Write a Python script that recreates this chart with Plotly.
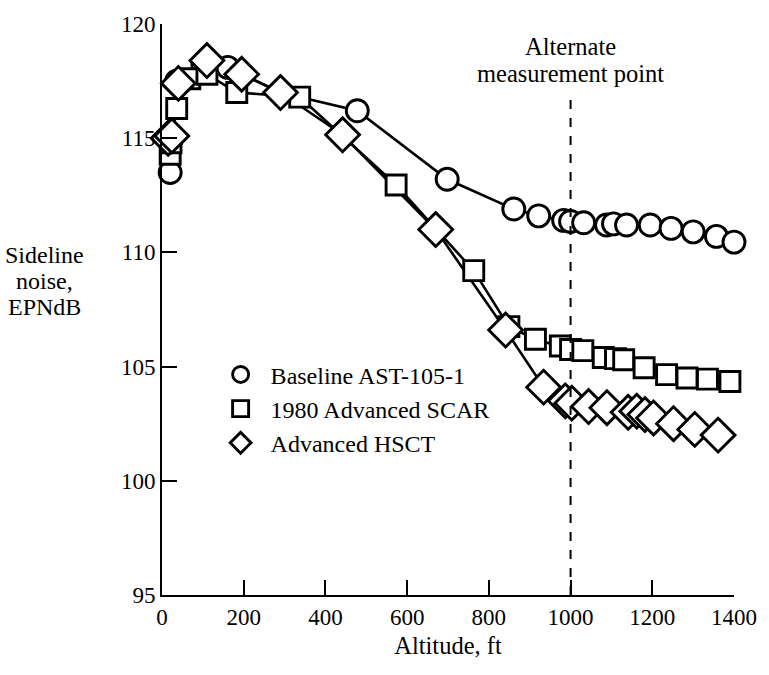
import plotly.graph_objects as go

# ---- data ----
base_x = [20, 24, 36, 100, 161, 290, 478, 698, 861, 922, 983, 1000, 1032, 1088, 1105, 1137, 1195, 1246, 1300, 1357, 1400]
base_y = [113.5, 115.0, 117.5, 118.2, 118.1, 117.0, 116.2, 113.2, 111.9, 111.6, 111.4, 111.35, 111.3, 111.2, 111.25, 111.2, 111.2, 111.05, 110.9, 110.7, 110.45]

scar_x = [20, 22, 36, 68, 110, 183, 337, 573, 763, 849, 914, 975, 1000, 1030, 1080, 1110, 1130, 1180, 1235, 1285, 1335, 1390]
scar_y = [114.3, 114.8, 116.3, 117.6, 117.8, 117.0, 116.8, 112.95, 109.2, 106.75, 106.2, 105.9, 105.75, 105.7, 105.4, 105.35, 105.3, 104.95, 104.65, 104.5, 104.45, 104.35]

hsct_x = [15, 24, 40, 110, 195, 290, 442, 670, 841, 934, 987, 1003, 1044, 1089, 1141, 1162, 1182, 1203, 1252, 1304, 1361]
hsct_y = [115.0, 115.1, 117.4, 118.4, 117.8, 117.0, 115.15, 111.0, 106.6, 104.1, 103.5, 103.4, 103.25, 103.2, 103.0, 103.05, 102.9, 102.75, 102.5, 102.25, 102.0]

series_names = ["Baseline AST-105-1", "1980 Advanced SCAR", "Advanced HSCT"]
x_ticks = [0, 200, 400, 600, 800, 1000, 1200, 1400]
y_ticks = [95, 100, 105, 110, 115, 120]
alt_point = 1000
dash_top = 117.0
alt_label = ["Alternate", "measurement point"]
y_title = ["Sideline", "noise,", "EPNdB"]

FONT = "Liberation Serif"
fig = go.Figure()

specs = [
    (base_x, base_y, "circle", 22),
    (scar_x, scar_y, "square", 20),
    (hsct_x, hsct_y, "diamond", 26),
]
for xs, ys, sym, sz in specs:
    fig.add_trace(go.Scatter(
        x=xs, y=ys, mode="lines", line=dict(color="black", width=2.6),
        showlegend=False, hoverinfo="skip", cliponaxis=False))
for (xs, ys, sym, sz), name in zip(specs, series_names):
    fig.add_trace(go.Scatter(
        x=xs, y=ys, mode="markers", name=name, cliponaxis=False,
        marker=dict(symbol=sym, size=sz, color="white",
                    line=dict(color="black", width=2.9)),
        showlegend=True))

fig.add_shape(type="line", xref="x", yref="y", x0=alt_point, x1=alt_point,
              y0=95, y1=dash_top, line=dict(color="black", width=2, dash="dash"))

# two-line label above the dashed line (tight leading like the original)
for i, txt in enumerate(alt_label):
    fig.add_annotation(x=alt_point, xref="x", y=dash_top, yref="y",
                       yanchor="bottom", yshift=4 + 27 * (len(alt_label) - 1 - i),
                       text=txt, showarrow=False,
                       font=dict(family=FONT, size=24.5, color="black"))

# y-axis title, three lines with tight leading
for i, txt in enumerate(y_title):
    fig.add_annotation(x=-0.205, xref="paper", xanchor="center",
                       y=0.595, yref="paper", yanchor="middle", yshift=-26 * i,
                       text=txt, showarrow=False,
                       font=dict(family=FONT, size=24, color="black"))

fig.update_layout(
    width=769, height=675,
    margin=dict(l=162, r=33, t=14, b=80),
    plot_bgcolor="white", paper_bgcolor="white",
    font=dict(family=FONT, size=23, color="black"),
    legend=dict(x=0.085, y=0.425, xanchor="left", yanchor="top",
                font=dict(family=FONT, size=24), bgcolor="rgba(0,0,0,0)",
                itemsizing="trace", itemwidth=50, tracegroupgap=0),
    xaxis=dict(range=[0, 1400], tickvals=x_ticks, ticks="inside", ticklen=15,
               tickwidth=2, tickcolor="black", showline=True, linecolor="black",
               linewidth=2, showgrid=False, zeroline=False,
               title=dict(text="Altitude, ft", font=dict(family=FONT, size=24.5), standoff=8),
               tickfont=dict(family=FONT, size=23)),
    yaxis=dict(range=[95, 120], tickvals=y_ticks, ticks="inside", ticklen=15,
               tickwidth=2, tickcolor="black", showline=True, linecolor="black",
               linewidth=2, showgrid=False, zeroline=False,
               tickfont=dict(family=FONT, size=23)),
)

fig.write_html("out.html")
